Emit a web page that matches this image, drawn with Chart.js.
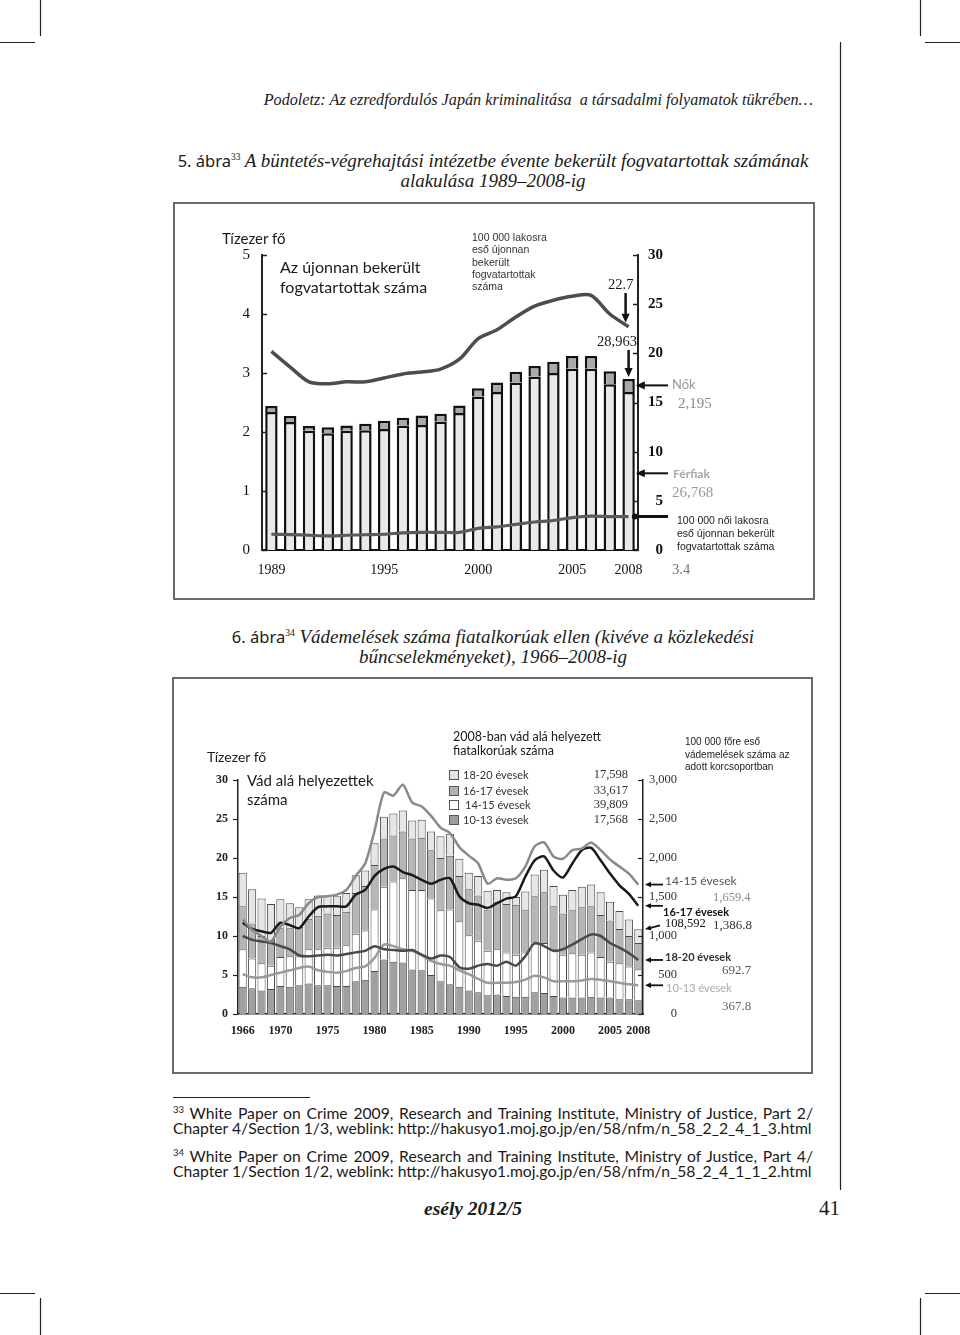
<!DOCTYPE html>
<html>
<head>
<meta charset="utf-8">
<script src="https://cdn.jsdelivr.net/npm/chart.js@4.4.1/dist/chart.umd.min.js"></script>
<style>
body { margin:0; width:960px; height:1335px; background:#fff; position:relative; overflow:hidden; color:#1a1a1a; font-family:"Liberation Serif", serif; }
.t { position:absolute; white-space:nowrap; line-height:1.2; }
.sans { font-family:Lato, "Open Sans", sans-serif; }
.ar { font-family:"Liberation Sans", Arial, sans-serif; }
.frame { position:absolute; border:2px solid #6a6a6a; box-sizing:border-box; }
canvas { position:absolute; }
.cap { position:absolute; left:173px; width:640px; text-align:center; font-style:italic; font-size:19px; line-height:20px; white-space:nowrap; }
.cap b { font-style:normal; font-weight:normal; font-family:"Noto Sans", sans-serif; font-size:16.5px; }
.cap sup, .fn sup { font-size:9.5px; font-style:normal; }
.fn { position:absolute; left:173px; width:640px; font-family:Lato, sans-serif; font-size:15.7px; line-height:19px; white-space:nowrap; }
.just { text-align:justify; text-align-last:justify; }
.lg { position:absolute; width:8px; height:8px; border:1px solid #555; }
</style>
</head>
<body>

<svg width="960" height="1335" style="position:absolute;left:0;top:0">
  <g stroke="#222" stroke-width="1.2">
    <line x1="40.5" y1="0" x2="40.5" y2="36"/>
    <line x1="0" y1="42.5" x2="35" y2="42.5"/>
    <line x1="920.5" y1="0" x2="920.5" y2="36"/>
    <line x1="925" y1="42.5" x2="960" y2="42.5"/>
    <line x1="0" y1="1293.5" x2="35" y2="1293.5"/>
    <line x1="40.5" y1="1298" x2="40.5" y2="1335"/>
    <line x1="925" y1="1293.5" x2="960" y2="1293.5"/>
    <line x1="920.5" y1="1298" x2="920.5" y2="1335"/>
    <line x1="840.5" y1="42" x2="840.5" y2="1190"/>
    <line x1="173" y1="1097.5" x2="310" y2="1097.5" stroke-width="1"/>
  </g>
</svg>

<div class="t" style="right:147px;top:91px;font-style:italic;font-size:16.2px">Podoletz: Az ezredfordulós Japán kriminalitása&nbsp; a társadalmi folyamatok tükrében…</div>

<div class="cap" style="top:147px"><b>5. ábra</b><sup>33</sup> A büntetés-végrehajtási intézetbe évente bekerült fogvatartottak számának<br>alakulása 1989–2008-ig</div>

<div class="frame" style="left:173px;top:202px;width:642px;height:398px"></div>
<canvas id="c1" width="640" height="395" style="left:174px;top:203px"></canvas>

<div class="t sans" style="left:222px;top:229px;font-size:15px">Tízezer fő</div>
<div class="t sans" style="left:280px;top:257px;font-size:16px;line-height:20px">Az újonnan bekerült<br>fogvatartottak száma</div>
<div class="t ar" style="left:472px;top:231px;font-size:10.5px;line-height:12.3px;color:#333">100 000 lakosra<br>eső újonnan<br>bekerült<br>fogvatartottak<br>száma</div>
<div class="t" style="left:608px;top:276px;font-size:14.5px">22.7</div>
<div class="t" style="left:597px;top:333px;font-size:14.5px">28,963</div>
<div class="t sans" style="left:672px;top:377px;font-size:13px;color:#9a9a9a">Nők</div>
<div class="t" style="left:678px;top:394px;font-size:15px;color:#8a8a8a">2,195</div>
<div class="t sans" style="left:673px;top:467px;font-size:12px;font-weight:bold;color:#a8a8a8">Férfiak</div>
<div class="t" style="left:672px;top:483px;font-size:15px;color:#9a9a9a">26,768</div>
<div class="t ar" style="left:677px;top:514px;font-size:10.5px;line-height:13px;color:#222">100 000 női lakosra<br>eső újonnan bekerült<br>fogvatartottak száma</div>
<div class="t" style="left:672px;top:561px;font-size:14.5px;color:#777">3.4</div>

<div class="cap" style="top:623px"><b>6. ábra</b><sup>34</sup> Vádemelések száma fiatalkorúak ellen (kivéve a közlekedési<br>bűncselekményeket), 1966–2008-ig</div>

<div class="frame" style="left:172px;top:677px;width:641px;height:397px"></div>
<canvas id="c2" width="639" height="395" style="left:173px;top:678px"></canvas>

<div class="t sans" style="left:207px;top:749px;font-size:14px">Tízezer fő</div>
<div class="t sans" style="left:247px;top:771px;font-size:15px;line-height:19px">Vád alá helyezettek<br>száma</div>
<div class="t sans" style="left:453px;top:730px;font-size:12.5px;line-height:14px">2008-ban vád alá helyezett<br>fiatalkorúak száma</div>
<div id="legend2"></div>
<div class="t ar" style="left:685px;top:736px;font-size:10px;line-height:12.5px;color:#222">100 000 főre eső<br>vádemelések száma az<br>adott korcsoportban</div>
<div class="t sans" style="left:665px;top:874px;font-size:12px;color:#555">14-15 évesek</div>
<div class="t" style="left:713px;top:890px;font-size:12.5px;color:#888">1,659.4</div>
<div class="t sans" style="left:663px;top:905px;font-size:11px;font-weight:bold;color:#111">16-17 évesek</div>
<div class="t" style="left:665px;top:916px;font-size:12.5px;color:#111">108,592</div>
<div class="t" style="left:713px;top:917px;font-size:13px;color:#333">1,386.8</div>
<div class="t sans" style="left:665px;top:950px;font-size:11px;font-weight:bold;color:#333">18-20 évesek</div>
<div class="t" style="left:722px;top:962px;font-size:13px;color:#555">692.7</div>
<div class="t sans" style="left:666px;top:981px;font-size:11px;color:#aaa">10-13 évesek</div>
<div class="t" style="left:722px;top:998px;font-size:13px;color:#666">367.8</div>

<div class="fn just" style="top:1100px"><sup>33</sup> White Paper on Crime 2009, Research and Training Institute, Ministry of Justice, Part 2/</div>
<div class="fn" style="top:1119px">Chapter 4/Section 1/3, weblink: http://hakusyo1.moj.go.jp/en/58/nfm/n_58_2_2_4_1_3.html</div>
<div class="fn just" style="top:1143px"><sup>34</sup> White Paper on Crime 2009, Research and Training Institute, Ministry of Justice, Part 4/</div>
<div class="fn" style="top:1162px">Chapter 1/Section 1/2, weblink: http://hakusyo1.moj.go.jp/en/58/nfm/n_58_2_4_1_1_2.html</div>

<div class="t" style="left:424px;top:1197px;font-size:19.5px;font-style:italic;font-weight:bold">esély 2012/5</div>
<div class="t" style="left:819px;top:1196px;font-size:21px">41</div>

<script>
// 5. ábra: newly admitted inmates, 1989-2008 (ten thousand persons)
const years1 = ['1989','1990','1991','1992','1993','1994','1995','1996','1997','1998',
	'1999','2000','2001','2002','2003','2004','2005','2006','2007','2008'];
const tickYears1 = ['1989', '1995', '2000', '2005', '2008'];
const male1 = [2.34, 2.17, 2.02, 1.98, 2.02, 2.03, 2.05, 2.11, 2.12, 2.18,
	2.32, 2.60, 2.68, 2.84, 2.94, 3.00, 3.07, 3.07, 2.81, 2.68];
const female1 = [0.10, 0.10, 0.08, 0.10, 0.09, 0.11, 0.14, 0.13, 0.16, 0.13,
	0.13, 0.14, 0.16, 0.18, 0.18, 0.19, 0.22, 0.22, 0.22, 0.22];
// per 100 000 inhabitants (right axis)
const rateAll1 = [20.2, 18.6, 17.1, 16.9, 17.1, 17.1, 17.5, 17.9, 18.1, 18.4,
	19.4, 21.5, 22.4, 23.7, 24.8, 25.4, 25.8, 25.9, 24.0, 22.7];
const rateWomen1 = [1.6, 1.57, 1.5, 1.43, 1.5, 1.55, 1.6, 1.75, 1.8, 1.8,
	1.8, 2.2, 2.35, 2.6, 2.85, 3.0, 3.3, 3.45, 3.4, 3.4];

// 6. ábra: juveniles prosecuted, 1966-2008 (ten thousand persons)
const years2 = ['1966','1967','1968','1969','1970','1971','1972','1973','1974','1975',
	'1976','1977','1978','1979','1980','1981','1982','1983','1984','1985',
	'1986','1987','1988','1989','1990','1991','1992','1993','1994','1995',
	'1996','1997','1998','1999','2000','2001','2002','2003','2004','2005',
	'2006','2007','2008'];
const tickYears2 = ['1966','1970','1975','1980','1985','1990','1995','2000','2005','2008'];
const age1013 = [3.5, 3.3, 3.0, 3.2, 3.6, 3.5, 3.7, 3.9, 3.7, 3.7,
	3.6, 3.6, 4.2, 4.4, 5.5, 7.0, 6.7, 6.6, 5.7, 5.6,
	5.0, 4.2, 3.8, 3.5, 3.0, 2.8, 2.4, 2.5, 2.3, 2.2,
	2.2, 2.8, 2.7, 2.3, 2.1, 2.1, 2.1, 2.2, 2.1, 2.1,
	1.9, 1.9, 1.76];
const age1415 = [4.8, 3.8, 3.5, 3.0, 3.7, 3.9, 3.7, 4.4, 4.6, 4.8,
	4.9, 5.2, 6.1, 6.3, 7.9, 9.3, 10.3, 10.8, 10.2, 10.3,
	9.8, 9.1, 9.6, 8.4, 7.1, 6.6, 5.7, 5.8, 5.6, 5.4,
	5.7, 6.2, 6.4, 6.0, 5.5, 5.7, 5.5, 5.7, 5.2, 4.6,
	4.6, 4.2, 3.98];
const age1617 = [5.5, 4.5, 3.5, 3.3, 3.7, 3.6, 3.8, 3.9, 4.3, 4.4,
	4.2, 4.3, 5.2, 5.7, 5.7, 6.2, 5.9, 6.0, 6.6, 6.7,
	6.2, 6.7, 6.9, 5.8, 5.9, 5.8, 5.2, 6.1, 6.2, 6.4,
	5.4, 6.1, 6.5, 5.5, 5.3, 5.5, 6.1, 5.9, 5.4, 5.3,
	4.4, 3.9, 3.36];
const age1820 = [4.3, 4.4, 4.8, 4.6, 3.7, 3.2, 2.5, 2.5, 2.6, 2.3,
	2.4, 2.4, 2.3, 2.0, 2.8, 2.8, 2.8, 2.7, 2.3, 2.3,
	2.4, 2.8, 2.8, 2.2, 2.1, 2.5, 2.5, 1.5, 1.5, 1.0,
	2.4, 2.8, 2.9, 2.6, 2.4, 2.6, 2.6, 2.8, 2.9, 2.4,
	2.3, 2.1, 1.76];
// prosecutions per 100 000 persons of the age group (right axis)
const rate1415 = [1210, 1080, 1000, 930, 1120, 1230, 1270, 1420, 1500, 1510,
	1530, 1590, 1770, 1930, 2350, 2840, 2800, 2940, 2710, 2660,
	2540, 2390, 2320, 2140, 2030, 1930, 1670, 1740, 1720, 1740,
	1890, 2150, 2200, 2020, 1990, 2100, 2120, 2200, 2100, 1980,
	1890, 1800, 1659.4];
const rate1617 = [1170, 1090, 1060, 1040, 1170, 1140, 1100, 1250, 1370, 1380,
	1380, 1380, 1530, 1590, 1770, 1860, 1890, 1820, 1780, 1720,
	1670, 1720, 1740, 1510, 1420, 1400, 1360, 1420, 1480, 1510,
	1760, 1970, 2020, 1840, 1750, 1930, 2100, 2130, 1970, 1800,
	1650, 1540, 1386.8];
const rate1820 = [1000, 950, 930, 910, 870, 830, 750, 740, 750, 760,
	750, 770, 790, 810, 870, 830, 820, 810, 820, 760,
	710, 750, 730, 600, 580, 620, 640, 620, 670, 620,
	740, 910, 870, 810, 830, 890, 960, 1020, 1000, 910,
	850, 780, 692.7];
const rate1013 = [510, 470, 470, 500, 530, 560, 590, 610, 560, 540,
	530, 550, 590, 610, 720, 890, 870, 830, 810, 750,
	680, 640, 620, 560, 510, 450, 400, 400, 400, 410,
	440, 490, 470, 420, 420, 420, 430, 450, 440, 420,
	400, 380, 367.8];
const legendLabels2 = ['18-20 évesek', '16-17 évesek', '14-15 évesek', '10-13 évesek'];
const legendCounts2 = ['17,598', '33,617', '39,809', '17,568'];
const legendColors2 = ['#e4e4e4', '#b2b2b2', '#ffffff', '#9c9c9c'];

Chart.defaults.animation = false;

function tickMarks(ctx, scale, len, color, width) {
	var x0 = scale.position === 'left' ? scale.right : scale.left;
	ctx.save();
	ctx.strokeStyle = color;
	ctx.lineWidth = width;
	scale.ticks.forEach(function(t) {
		var y = Math.round(scale.getPixelForValue(t.value)) + 0.5;
		ctx.beginPath();
		ctx.moveTo(x0, y);
		ctx.lineTo(x0 + len, y);
		ctx.stroke();
	});
	ctx.restore();
}

function arrow(ctx, x1, y1, x2, y2, width, head, color) {
	var a = Math.atan2(y2 - y1, x2 - x1);
	var c = Math.cos(a), s = Math.sin(a);
	ctx.save();
	ctx.strokeStyle = color;
	ctx.fillStyle = color;
	ctx.lineWidth = width;
	ctx.beginPath();
	ctx.moveTo(x1, y1);
	ctx.lineTo(x2 - c * head * 0.8, y2 - s * head * 0.8);
	ctx.stroke();
	ctx.beginPath();
	ctx.moveTo(x2, y2);
	ctx.lineTo(x2 - head * c + head * 0.45 * s, y2 - head * s - head * 0.45 * c);
	ctx.lineTo(x2 - head * c - head * 0.45 * s, y2 - head * s + head * 0.45 * c);
	ctx.closePath();
	ctx.fill();
	ctx.restore();
}

function fixSize(w, h) {
	return function(scale) {
		if (w !== null) scale.width = w;
		if (h !== null) scale.height = h;
		scale.paddingTop = 0;
		scale.paddingBottom = 0;
		scale.paddingLeft = 0;
		scale.paddingRight = 0;
	};
}

// ---------- chart 1 ----------
var decor1 = {
	id: 'decor1',
	afterDraw: function(chart) {
		var ctx = chart.ctx, area = chart.chartArea;
		var x = chart.scales.x, y = chart.scales.y, y1 = chart.scales.y1;
		tickMarks(ctx, y, 5, '#222', 1.5);
		tickMarks(ctx, y1, -5, '#222', 1.5);
		var last = years1.length - 1;
		var xl = x.getPixelForValue(last);
		var bar = chart.getDatasetMeta(0).data[last];
		var barRight = xl + bar.width / 2;
		var total = male1[last] + female1[last];
		arrow(ctx, xl - 3, 90, xl - 3, y1.getPixelForValue(rateAll1[last]) - 4, 2.5, 9, '#111');
		arrow(ctx, xl, 147, xl, y.getPixelForValue(total) - 2, 2.5, 9, '#111');
		arrow(ctx, area.right + 30, y.getPixelForValue(male1[last] + female1[last] / 2),
			barRight + 1, y.getPixelForValue(male1[last] + female1[last] / 2), 2, 9, '#111');
		arrow(ctx, area.right + 30, y.getPixelForValue(1.3), barRight + 1, y.getPixelForValue(1.3), 2, 9, '#111');
		var yw = y1.getPixelForValue(rateWomen1[last]);
		ctx.save();
		ctx.strokeStyle = '#111';
		ctx.lineWidth = 3;
		ctx.beginPath();
		ctx.moveTo(area.right + 30, yw);
		ctx.lineTo(barRight, yw);
		ctx.stroke();
		ctx.beginPath();
		ctx.arc(barRight, yw, 3, 0, Math.PI * 2);
		ctx.fillStyle = '#111';
		ctx.fill();
		ctx.restore();
	}
};

new Chart(document.getElementById('c1'), {
	data: {
		labels: years1,
		datasets: [{
			type: 'bar',
			label: 'Férfiak',
			data: male1,
			backgroundColor: '#e9e9e9',
			borderColor: '#111',
			borderWidth: 2.5,
			yAxisID: 'y',
			order: 2,
			barPercentage: 0.66,
			categoryPercentage: 1
		}, {
			type: 'bar',
			label: 'Nők',
			data: female1,
			backgroundColor: '#a9a9a9',
			borderColor: '#111',
			borderWidth: 2.5,
			yAxisID: 'y',
			order: 2,
			barPercentage: 0.66,
			categoryPercentage: 1
		}, {
			type: 'line',
			label: '100 000 lakosra',
			data: rateAll1,
			borderColor: '#4d4d4d',
			borderWidth: 3.5,
			pointRadius: 0,
			tension: 0.3,
			yAxisID: 'y1',
			order: 0
		}, {
			type: 'line',
			label: '100 000 női lakosra',
			data: rateWomen1,
			borderColor: '#5a5a5a',
			borderWidth: 3.2,
			pointRadius: 0,
			tension: 0.3,
			yAxisID: 'y1',
			order: 0
		}]
	},
	options: {
		responsive: false,
		devicePixelRatio: 1,
		layout: { padding: { top: 52, right: 151, bottom: 0, left: 0 } },
		plugins: { legend: { display: false }, tooltip: { enabled: false } },
		scales: {
			x: {
				stacked: true,
				offset: true,
				grid: { display: false, drawTicks: false },
				border: { color: '#111', width: 2 },
				ticks: {
					autoSkip: false, maxRotation: 0, padding: 12, color: '#111',
					font: { family: 'Liberation Serif', size: 14 },
					callback: function(v) {
						var l = this.getLabelForValue(v);
						return tickYears1.indexOf(l) >= 0 ? l : '';
					}
				},
				afterFit: fixSize(null, 48)
			},
			y: {
				stacked: true,
				min: 0, max: 5,
				grid: { display: false, drawTicks: false },
				border: { color: '#222', width: 2 },
				ticks: { stepSize: 1, padding: 12, color: '#111', font: { family: 'Liberation Serif', size: 15 } },
				afterFit: fixSize(88, null)
			},
			y1: {
				position: 'right',
				min: 0, max: 30,
				grid: { display: false, drawTicks: false },
				border: { color: '#222', width: 2 },
				ticks: { stepSize: 5, padding: 10, crossAlign: 'far', color: '#111', font: { family: 'Liberation Serif', size: 15, weight: 'bold' } },
				afterFit: fixSize(25, null)
			}
		}
	},
	plugins: [decor1]
});

// ---------- chart 2 ----------
var legendBox = document.getElementById('legend2');
legendLabels2.forEach(function(lab, i) {
	var cy = [775, 791, 805, 820][i];
	legendBox.insertAdjacentHTML('beforeend',
		'<div class="lg" style="left:449px;top:' + (cy - 5) + 'px;background:' + legendColors2[i] + '"></div>' +
		'<div class="t sans" style="left:' + (i === 2 ? 465 : 463) + 'px;top:' + (cy - 7) + 'px;font-size:11px;color:#333">' + lab + '</div>' +
		'<div class="t" style="right:' + (960 - 628) + 'px;top:' + (cy - 8) + 'px;font-size:12.5px;color:#333">' + legendCounts2[i] + '</div>');
});

var decor2 = {
	id: 'decor2',
	afterDraw: function(chart) {
		var ctx = chart.ctx, area = chart.chartArea;
		var x = chart.scales.x, y = chart.scales.y, y1 = chart.scales.y1;
		tickMarks(ctx, y, -5, '#222', 1.2);
		tickMarks(ctx, y1, -5, '#222', 1.2);
		var last = years2.length - 1;
		var tail = area.right + 20, tip = area.right + 2;
		[rate1415[last], rate1617[last], rate1820[last], rate1013[last]].forEach(function(v) {
			var py = y1.getPixelForValue(v);
			arrow(ctx, tail, py, tip, py, 1.8, 6, '#111');
		});
		var total = age1013[last] + age1415[last] + age1617[last] + age1820[last];
		var pt = y.getPixelForValue(total);
		arrow(ctx, tail - 3, pt - 4, tip, pt, 1.8, 6, '#111');
	}
};

function barSet(label, data, color) {
	return {
		type: 'bar', label: label, data: data,
		backgroundColor: color, borderColor: '#4a4a4a', borderWidth: 1,
		yAxisID: 'y', order: 2, barPercentage: 0.86, categoryPercentage: 1
	};
}
function lineSet(label, data, color, width) {
	return {
		type: 'line', label: label, data: data,
		borderColor: color, borderWidth: width, pointRadius: 0, tension: 0.25,
		yAxisID: 'y1', order: 0
	};
}

new Chart(document.getElementById('c2'), {
	data: {
		labels: years2,
		datasets: [
			barSet('10-13 évesek', age1013, '#a0a0a0'),
			barSet('14-15 évesek', age1415, '#ffffff'),
			barSet('16-17 évesek', age1617, '#b6b6b6'),
			barSet('18-20 évesek', age1820, '#e6e6e6'),
			lineSet('14-15 évesek', rate1415, '#8a8a8a', 2.5),
			lineSet('16-17 évesek', rate1617, '#1a1a1a', 2.5),
			lineSet('18-20 évesek', rate1820, '#4a4a4a', 2.5),
			lineSet('10-13 évesek', rate1013, '#9a9a9a', 2.5)
		]
	},
	options: {
		responsive: false,
		devicePixelRatio: 1,
		layout: { padding: { top: 102, right: 135, bottom: 0, left: 0 } },
		plugins: { legend: { display: false }, tooltip: { enabled: false } },
		scales: {
			x: {
				stacked: true,
				offset: true,
				grid: { display: false, drawTicks: false },
				border: { color: '#222', width: 1.5 },
				ticks: {
					autoSkip: false, maxRotation: 0, padding: 10, color: '#222',
					font: { family: 'Liberation Serif', size: 12, weight: 'bold' },
					callback: function(v) {
						var l = this.getLabelForValue(v);
						return tickYears2.indexOf(l) >= 0 ? l : '';
					}
				},
				afterFit: fixSize(null, 59)
			},
			y: {
				stacked: true,
				min: 0, max: 30,
				grid: { display: false, drawTicks: false },
				border: { color: '#222', width: 1.5 },
				ticks: { stepSize: 5, padding: 10, color: '#222', font: { family: 'Liberation Serif', size: 12, weight: 'bold' } },
				afterFit: fixSize(65, null)
			},
			y1: {
				position: 'right',
				min: 0, max: 3000,
				grid: { display: false, drawTicks: false },
				border: { color: '#222', width: 1.5 },
				ticks: {
					stepSize: 500, padding: 7, crossAlign: 'far', color: '#333',
					font: { family: 'Liberation Serif', size: 12.5 },
					callback: function(v) { return v.toLocaleString('en-US'); }
				},
				afterFit: fixSize(34, null)
			}
		}
	},
	plugins: [decor2]
});
</script>
</body>
</html>
